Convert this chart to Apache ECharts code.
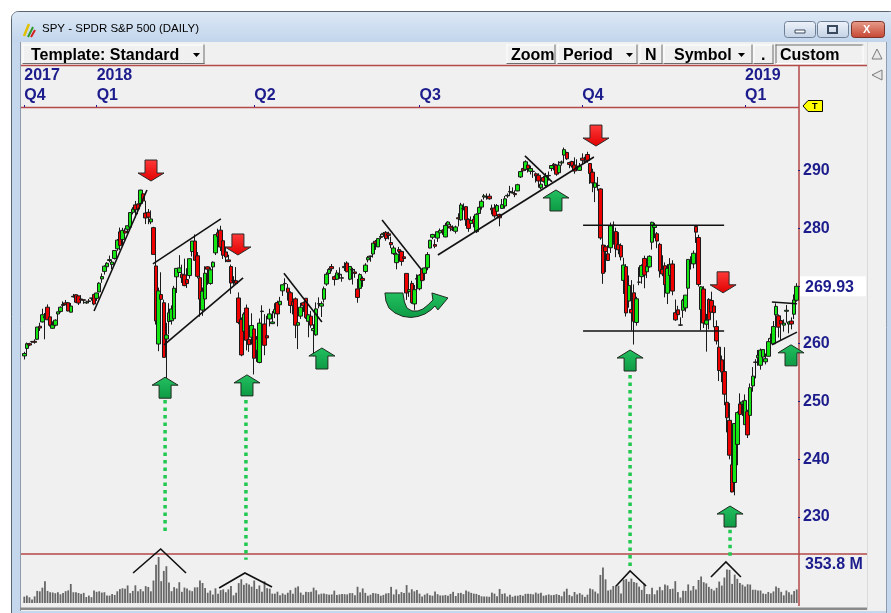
<!DOCTYPE html>
<html>
<head>
<meta charset="utf-8">
<title>SPY - SPDR S&P 500 (DAILY)</title>
<script src="https://cdn.jsdelivr.net/npm/echarts@6/dist/echarts.min.js"></script>
<style>
  html, body { margin: 0; padding: 0; background: #fff; }
  #chart { width: 891px; height: 613px; }
</style>
</head>
<body>
<div id="chart"></div>
<script>
// trading days shown, by month
const tradingDays = {
  '2017-11': [20, 21, 22, 24, 27, 28, 29, 30],
  '2017-12': [1, 4, 5, 6, 7, 8, 11, 12, 13, 14, 15, 18, 19, 20, 21, 22, 26, 27, 28, 29],
  '2018-01': [2, 3, 4, 5, 8, 9, 10, 11, 12, 16, 17, 18, 19, 22, 23, 24, 25, 26, 29, 30, 31],
  '2018-02': [1, 2, 5, 6, 7, 8, 9, 12, 13, 14, 15, 16, 20, 21, 22, 23, 26, 27, 28],
  '2018-03': [1, 2, 5, 6, 7, 8, 9, 12, 13, 14, 15, 16, 19, 20, 21, 22, 23, 26, 27, 28, 29],
  '2018-04': [2, 3, 4, 5, 6, 9, 10, 11, 12, 13, 16, 17, 18, 19, 20, 23, 24, 25, 26, 27, 30],
  '2018-05': [1, 2, 3, 4, 7, 8, 9, 10, 11, 14, 15, 16, 17, 18, 21, 22, 23, 24, 25, 29, 30, 31],
  '2018-06': [1, 4, 5, 6, 7, 8, 11, 12, 13, 14, 15, 18, 19, 20, 21, 22, 25, 26, 27, 28, 29],
  '2018-07': [2, 3, 5, 6, 9, 10, 11, 12, 13, 16, 17, 18, 19, 20, 23, 24, 25, 26, 27, 30, 31],
  '2018-08': [1, 2, 3, 6, 7, 8, 9, 10, 13, 14, 15, 16, 17, 20, 21, 22, 23, 24, 27, 28, 29, 30, 31],
  '2018-09': [4, 5, 6, 7, 10, 11, 12, 13, 14, 17, 18, 19, 20, 21, 24, 25, 26, 27, 28],
  '2018-10': [1, 2, 3, 4, 5, 8, 9, 10, 11, 12, 15, 16, 17, 18, 19, 22, 23, 24, 25, 26, 29, 30, 31],
  '2018-11': [1, 2, 5, 6, 7, 8, 9, 12, 13, 14, 15, 16, 19, 20, 21, 23, 26, 27, 28, 29, 30],
  '2018-12': [3, 4, 6, 7, 10, 11, 12, 13, 14, 17, 18, 19, 20, 21, 24, 26, 27, 28, 31],
  '2019-01': [2, 3, 4, 7, 8, 9, 10, 11, 14, 15, 16, 17, 18, 22, 23, 24, 25, 28, 29, 30, 31]
};

// [open, close, low, high]
const ohlc = [
  // 2017-11
  [257.88, 258.30, 257.27, 258.59], [259.18, 259.99, 258.26, 260.20], [260.00, 259.76, 259.57, 260.15], [260.32, 260.36, 260.16, 260.48],
  [260.41, 260.23, 260.00, 260.75], [260.76, 262.87, 260.66, 262.90], [263.02, 262.71, 262.20, 263.63], [263.76, 265.01, 263.67, 266.05],
  // 2017-12
  [264.76, 264.46, 260.76, 265.31], [266.31, 264.14, 264.08, 266.80], [264.64, 263.19, 262.96, 265.15], [262.66, 263.24, 262.59, 263.86],
  [263.19, 264.07, 263.00, 264.22], [265.14, 265.51, 264.03, 265.52], [265.58, 266.31, 265.37, 266.45], [266.62, 266.78, 266.30, 267.32],
  [267.06, 266.75, 266.65, 267.56], [267.09, 265.66, 265.60, 267.22], [265.45, 266.51, 265.39, 267.04], [268.10, 268.20, 267.98, 268.60],
  [268.48, 267.17, 267.09, 268.53], [268.27, 267.03, 266.69, 268.33], [267.74, 267.58, 267.30, 268.39], [267.60, 267.51, 266.90, 267.64],
  [267.05, 267.19, 266.89, 267.44], [267.38, 267.32, 267.01, 267.73], [267.89, 267.87, 267.45, 267.92], [268.53, 266.86, 266.64, 268.55],
  // 2018-01
  [267.84, 268.77, 267.40, 268.81], [268.96, 270.47, 268.96, 270.64], [271.20, 271.61, 270.54, 272.16], [272.51, 273.42, 271.95, 273.56],
  [273.31, 273.92, 272.98, 274.10], [274.40, 274.54, 274.08, 275.25], [273.68, 274.12, 272.92, 274.42], [274.75, 276.12, 274.56, 276.12],
  [276.42, 277.92, 276.08, 278.11], [279.35, 276.97, 276.18, 280.09], [278.03, 279.61, 276.97, 280.05], [279.48, 279.14, 278.58, 279.96],
  [279.80, 280.41, 279.14, 280.41], [280.17, 282.69, 280.11, 282.69], [282.74, 283.29, 282.37, 283.62], [284.02, 283.18, 281.84, 284.70],
  [284.16, 283.30, 282.41, 284.27], [284.25, 286.58, 283.96, 286.63], [285.93, 284.68, 284.50, 286.43], [282.60, 281.76, 280.70, 284.74],
  [282.73, 281.90, 280.68, 283.30],
  // 2018-02
  [281.07, 281.58, 280.68, 283.06], [280.08, 275.45, 275.41, 280.23], [273.45, 263.93, 263.31, 275.85], [259.94, 269.13, 258.70, 269.70],
  [268.50, 267.67, 267.58, 272.36], [267.08, 257.63, 257.63, 267.62], [260.80, 261.50, 252.92, 263.61], [263.83, 265.34, 261.66, 267.01],
  [263.97, 266.00, 263.31, 266.62], [264.31, 269.59, 264.30, 270.00], [271.57, 273.03, 268.77, 273.04], [272.32, 273.11, 272.27, 275.32],
  [272.03, 271.40, 270.50, 273.67], [271.90, 270.05, 269.94, 274.72], [271.10, 270.40, 269.64, 273.05], [271.79, 274.71, 271.25, 274.71],
  [275.95, 277.76, 275.08, 277.76], [277.76, 274.43, 274.35, 278.91], [275.21, 271.65, 271.31, 275.85],
  // 2018-03
  [271.41, 267.70, 264.67, 273.17], [265.81, 269.08, 264.82, 269.72], [267.73, 272.19, 267.00, 273.39], [273.30, 272.88, 270.19, 273.39],
  [270.42, 272.78, 270.20, 273.18], [273.29, 274.10, 272.40, 274.24], [275.71, 278.87, 275.34, 278.87], [279.20, 278.52, 278.08, 279.91],
  [279.64, 276.72, 276.03, 280.41], [277.81, 275.30, 274.67, 278.02], [275.88, 275.00, 274.10, 276.71], [274.50, 274.20, 274.14, 275.39],
  [273.35, 270.49, 268.62, 273.70], [270.94, 270.95, 270.18, 271.67], [270.90, 270.43, 270.19, 273.26], [267.91, 263.67, 263.36, 268.87],
  [264.17, 258.05, 257.83, 264.54], [262.13, 265.11, 259.41, 265.43], [266.17, 260.60, 258.84, 266.77], [260.75, 259.83, 258.58, 262.64],
  [261.12, 263.15, 259.84, 265.26],
  // 2018-04
  [262.55, 257.47, 254.67, 263.13], [258.87, 260.77, 256.84, 261.31], [256.75, 263.56, 256.60, 264.36], [265.55, 265.64, 263.39, 266.64],
  [263.42, 259.72, 258.00, 265.11], [261.37, 261.00, 259.99, 264.84], [264.27, 265.15, 262.98, 266.04], [263.47, 263.76, 263.39, 265.64],
  [265.29, 265.93, 264.43, 267.00], [267.12, 265.15, 262.99, 267.44], [266.74, 267.33, 265.34, 268.10], [269.14, 270.19, 268.26, 270.25],
  [270.43, 270.39, 269.57, 271.31], [269.61, 268.89, 267.46, 270.33], [268.81, 266.61, 265.28, 269.06], [267.26, 266.57, 265.06, 267.99],
  [267.76, 263.20, 260.96, 268.00], [263.19, 263.64, 259.06, 264.17], [264.77, 266.31, 264.29, 267.07], [267.08, 266.56, 265.50, 267.29],
  [267.86, 264.51, 264.28, 267.86],
  // 2018-05
  [263.87, 264.98, 261.11, 265.10], [264.76, 263.20, 262.76, 265.68], [262.26, 262.62, 257.82, 263.36], [261.52, 266.02, 261.36, 267.15],
  [266.89, 266.92, 266.11, 268.02], [266.50, 266.92, 264.61, 267.32], [267.70, 269.50, 267.13, 269.89], [270.32, 272.02, 270.02, 272.35],
  [272.15, 272.85, 271.67, 273.07], [273.34, 272.98, 272.52, 273.79], [271.59, 271.10, 270.06, 271.81], [271.15, 272.24, 271.04, 272.73],
  [271.92, 272.01, 271.21, 273.21], [271.41, 271.33, 270.72, 271.96], [273.16, 273.37, 272.58, 274.10], [273.96, 272.45, 272.36, 274.25],
  [271.16, 273.36, 270.98, 273.39], [272.85, 272.76, 270.23, 273.13], [272.42, 272.15, 271.40, 272.88], [269.48, 268.00, 267.08, 271.21],
  [269.57, 271.96, 269.46, 272.18], [271.29, 270.94, 269.85, 271.64],
  // 2018-06
  [272.49, 273.60, 272.14, 273.93], [274.51, 274.90, 274.06, 275.18], [275.17, 275.10, 274.18, 275.23], [275.52, 277.40, 274.90, 277.41],
  [277.72, 277.37, 276.23, 277.94], [276.75, 278.19, 276.72, 278.25], [278.40, 278.56, 278.06, 279.00], [278.87, 279.10, 278.48, 279.33],
  [279.27, 278.19, 277.80, 279.48], [279.01, 278.73, 278.04, 279.37], [277.51, 277.13, 276.52, 278.53], [275.58, 276.56, 275.36, 276.97],
  [274.02, 275.50, 272.87, 275.76], [276.29, 275.97, 275.64, 276.75], [275.96, 274.24, 273.49, 276.12], [275.03, 274.74, 274.23, 275.62],
  [272.16, 268.77, 267.58, 272.18], [269.00, 269.35, 268.10, 270.07], [270.43, 267.09, 266.91, 270.88], [266.88, 269.35, 265.86, 270.16],
  [271.16, 271.28, 269.04, 272.00],
  // 2018-07
  [269.51, 271.86, 269.24, 272.04], [272.87, 270.90, 270.42, 272.98], [272.17, 273.11, 270.96, 273.18], [273.14, 275.42, 272.71, 275.84],
  [276.55, 277.90, 276.50, 277.96], [278.41, 278.90, 278.08, 279.01], [277.15, 276.86, 276.52, 278.04], [278.28, 279.37, 277.60, 279.43],
  [279.17, 279.59, 278.66, 279.93], [279.64, 279.34, 278.84, 279.80], [278.47, 280.47, 278.41, 280.91], [280.56, 281.06, 280.06, 281.18],
  [280.31, 280.00, 279.46, 280.74], [279.77, 279.68, 279.50, 280.48], [279.45, 280.20, 279.06, 280.43], [281.79, 281.61, 280.30, 282.56],
  [281.43, 284.01, 281.28, 284.37], [283.37, 283.34, 283.07, 284.27], [283.71, 281.42, 280.38, 283.82], [281.51, 279.95, 279.36, 281.69],
  [280.81, 281.33, 280.38, 282.02],
  // 2018-08
  [281.56, 280.86, 280.13, 282.13], [279.39, 282.39, 279.16, 282.58], [282.53, 283.60, 282.33, 283.66], [283.64, 284.64, 283.20, 284.99],
  [285.39, 285.58, 284.94, 285.91], [285.39, 285.46, 284.92, 285.99], [285.53, 285.07, 284.92, 285.97], [283.45, 283.16, 282.36, 284.06],
  [283.47, 282.10, 281.77, 284.16], [282.92, 283.90, 282.48, 284.17], [282.38, 281.78, 280.32, 282.49], [283.40, 284.06, 283.36, 285.04],
  [283.83, 285.06, 283.37, 285.56], [285.57, 285.67, 285.24, 286.01], [286.25, 286.34, 285.62, 287.31], [286.08, 286.17, 285.98, 287.05],
  [285.97, 285.79, 285.36, 286.52], [286.44, 287.51, 286.38, 287.67], [288.86, 289.78, 288.68, 289.90], [290.30, 289.92, 289.40, 290.42],
  [290.16, 291.48, 289.89, 291.74], [290.91, 290.30, 289.63, 291.26], [289.84, 290.31, 289.29, 290.81],
  // 2018-09
  [289.84, 289.81, 288.70, 290.21], [289.41, 289.03, 287.89, 289.64], [289.15, 288.16, 287.00, 289.49], [286.98, 287.60, 286.71, 288.70],
  [288.74, 288.10, 287.88, 289.04], [287.37, 289.05, 286.98, 289.55], [289.06, 289.12, 288.23, 289.80], [290.32, 290.83, 289.86, 290.85],
  [291.06, 290.88, 290.00, 291.27], [290.87, 289.34, 289.06, 291.03], [289.58, 290.91, 289.54, 291.58], [291.27, 291.44, 290.83, 291.69],
  [292.64, 293.58, 291.24, 293.94], [293.09, 291.99, 291.81, 293.22], [291.34, 291.02, 290.37, 291.50], [291.53, 290.75, 290.48, 291.65],
  [290.91, 289.88, 289.41, 292.24], [290.41, 290.69, 290.10, 291.91], [289.99, 290.72, 289.95, 291.28],
  // 2018-10
  [292.11, 291.73, 290.98, 292.93], [291.56, 291.56, 291.14, 292.36], [292.74, 291.72, 291.32, 293.21], [291.18, 289.44, 287.66, 291.24],
  [289.69, 287.82, 286.22, 290.27], [287.05, 287.82, 284.50, 288.28], [287.38, 287.40, 286.48, 288.86], [286.78, 278.30, 277.99, 286.90],
  [277.08, 272.17, 270.36, 278.90], [276.77, 275.95, 272.36, 277.09], [275.55, 274.40, 274.30, 277.04], [276.60, 280.40, 275.70, 280.96],
  [280.51, 280.45, 277.14, 281.15], [279.40, 276.40, 274.97, 280.07], [277.13, 276.25, 275.47, 279.30], [277.00, 275.01, 274.41, 277.36],
  [270.95, 273.61, 268.61, 274.87], [273.33, 265.32, 264.70, 273.76], [267.38, 270.08, 266.23, 271.81], [265.92, 265.33, 262.29, 271.00],
  [268.80, 263.86, 259.85, 270.25], [263.67, 267.77, 263.12, 268.12], [270.65, 270.63, 270.12, 273.23],
  // 2018-11
  [271.60, 273.51, 270.38, 273.73], [274.75, 271.89, 269.59, 275.23], [272.44, 273.39, 271.35, 274.01], [273.30, 275.12, 273.15, 275.30],
  [277.56, 281.01, 276.28, 281.10], [280.11, 280.50, 278.25, 280.91], [279.03, 277.76, 276.53, 279.32], [277.19, 272.57, 271.44, 277.46],
  [272.88, 272.06, 271.68, 275.30], [273.49, 270.20, 268.02, 274.06], [268.74, 273.02, 266.86, 273.77], [271.80, 273.73, 271.28, 274.81],
  [273.79, 269.10, 268.38, 274.44], [265.36, 264.12, 263.94, 267.64], [265.86, 265.02, 264.97, 266.55], [263.20, 263.25, 263.07, 264.56],
  [265.78, 267.50, 264.48, 267.76], [266.19, 268.40, 265.53, 268.40], [269.60, 274.58, 268.23, 274.59], [274.14, 273.98, 272.83, 275.11],
  [273.81, 275.65, 273.04, 276.12],
  // 2018-12
  [280.28, 279.30, 277.44, 280.40], [278.37, 270.25, 269.90, 278.85], [265.92, 269.84, 262.29, 269.97], [269.46, 263.57, 262.71, 269.94],
  [263.37, 264.07, 258.62, 265.16], [267.66, 264.13, 262.48, 267.87], [267.47, 265.46, 265.37, 269.00], [266.52, 265.37, 262.84, 267.01],
  [262.96, 260.47, 259.85, 264.03], [259.40, 255.36, 253.53, 260.65], [257.20, 255.08, 253.34, 257.95], [255.17, 251.26, 249.35, 259.40],
  [249.86, 247.17, 244.65, 251.62], [246.74, 240.70, 239.98, 249.71], [239.04, 234.34, 234.27, 240.84], [235.97, 246.18, 233.76, 246.18],
  [242.57, 248.07, 238.96, 248.29], [249.58, 247.75, 246.45, 251.40], [249.56, 249.92, 247.47, 250.19],
  // 2019-01
  [245.98, 250.18, 245.95, 251.21], [248.23, 244.21, 243.67, 248.57], [247.59, 252.39, 247.17, 253.11], [252.69, 254.38, 251.69, 255.95],
  [256.82, 256.77, 254.00, 257.31], [257.56, 257.97, 256.19, 258.91], [256.26, 258.88, 255.50, 259.16], [257.68, 258.98, 257.03, 259.01],
  [256.86, 257.40, 256.41, 258.30], [257.82, 260.35, 257.82, 260.94], [260.83, 260.98, 260.23, 261.74], [259.98, 262.96, 259.96, 263.92],
  [264.98, 266.46, 263.00, 266.98], [264.82, 262.86, 261.06, 265.06], [264.01, 263.41, 260.66, 264.79], [263.21, 263.55, 262.08, 264.20],
  [265.61, 265.78, 263.66, 266.70], [263.39, 263.76, 261.79, 263.83], [263.92, 263.41, 262.48, 264.55], [265.10, 267.58, 264.25, 268.52],
  [267.51, 269.93, 267.27, 270.47]
];

// daily volume, millions of shares
const volume = [
  49, 57, 44, 27, 51, 93, 90, 118,
  168, 93, 83, 81, 75, 83, 67, 77, 91, 97, 146, 83, 82, 77, 70, 78, 46, 57, 45, 96,
  86, 90, 80, 83, 57, 57, 69, 62, 90, 107, 113, 110, 135, 76, 93, 136, 90, 107, 90, 130, 123,
  90, 173, 294, 353.8, 168, 247, 283, 158, 91, 122, 112, 160, 86, 119, 112, 97, 91, 120, 121,
  173, 154, 115, 79, 96, 65, 113, 71, 99, 105, 83, 105, 131, 59, 79, 153, 183, 140, 152, 142, 126,
  173, 108, 135, 86, 166, 114, 110, 72, 72, 87, 60, 74, 64, 79, 99, 71, 118, 128, 80, 63, 86,
  84, 86, 118, 98, 66, 72, 74, 68, 64, 66, 95, 62, 66, 70, 68, 66, 76, 76, 60, 125, 82, 112,
  78, 56, 64, 76, 74, 70, 56, 62, 74, 76, 124, 66, 104, 68, 84, 76, 138, 80, 106, 90, 100,
  72, 50, 64, 74, 60, 56, 88, 68, 58, 58, 62, 56, 70, 86, 54, 76, 78, 68, 96, 88, 78,
  72, 70, 62, 52, 50, 50, 48, 80, 72, 52, 108, 70, 74, 50, 64, 48, 56, 56, 62, 56, 70, 72, 70,
  66, 80, 72, 78, 56, 60, 66, 60, 62, 68, 62, 52, 88, 110, 62, 52, 85, 66, 76,
  64, 47, 64, 111, 105, 88, 73, 216, 274, 182, 96, 103, 131, 135, 133, 74, 180, 184, 164, 188, 162, 155, 126,
  101, 149, 69, 68, 117, 67, 98, 124, 98, 143, 135, 107, 110, 168, 84, 42, 94, 93, 143, 96, 131,
  104, 177, 204, 160, 151, 124, 109, 96, 117, 165, 134, 196, 257, 255, 147, 218, 186, 154, 141,
  126, 144, 142, 102, 102, 96, 96, 73, 70, 85, 75, 89, 127, 116, 86, 59, 96, 82, 65, 92, 104
];

const priceTicks = [230, 240, 250, 260, 270, 280, 290];
const volumeLabel = 353.8;

// drawn annotations, as [bar index, price]
const trendLines = [
  [[27.0, 265.65], [47.5, 286.6]],
  [[49.8, 273.8], [76.1, 281.6]],
  [[54.1, 259.8], [84.7, 271.4]],
  [[100.5, 272.2], [115.2, 263.75]],
  [[138.5, 281.4], [153.6, 272.9]],
  [[160.1, 275.35], [220.5, 292.3]],
  [[193.8, 292.5], [204.3, 288.0]],
  [[216.3, 280.5], [270.9, 280.5]],
  [[216.3, 262.2], [270.9, 262.2]],
  [[289.4, 267.2], [299.1, 266.9]],
  [[289.4, 259.8], [299.1, 262.0]]
];
const sellArrows = [[49.05, 288.15], [82.7, 275.35], [221.3, 294.2], [270.5, 268.8]];
const buyArrows = [[54.5, 254.2], [86.2, 254.6], [115.2, 259.25], [205.8, 286.6], [234.5, 258.9], [273.2, 231.9], [296.8, 259.8]];
const uTurn = [151.6, 266.7];
// [bar index, from price, to price]
const dropLines = [[54.5, 250.25, 226.9], [85.8, 250.25, 222.6], [234.5, 254.6, 221.5], [273.2, 227.8, 223.3]];
// volume peaks, as [bar index, volume]
const volumePeaks = [
  [[42.1, 230.8], [52.8, 415.5], [62.6, 230.8]],
  [[75.4, 115.4], [85.4, 230.8], [95.9, 123.1]],
  [[229.1, 130.8], [234.5, 246.2], [240.7, 130.8]],
  [[265.8, 200], [271.6, 315.4], [277.4, 200]]
];

const dates = [];
Object.keys(tradingDays).forEach(m => {
  tradingDays[m].forEach(d => dates.push(m + '-' + String(d).padStart(2, '0')));
});
const quarterIdx = new Set();
const yearIdx = new Set();
dates.forEach((d, i) => {
  const prev = dates[i - 1];
  const mo = +d.slice(5, 7);
  if (i === 0 || (prev.slice(5, 7) !== d.slice(5, 7) && (mo - 1) % 3 === 0)) quarterIdx.add(i);
  if (i === 0 || prev.slice(0, 4) !== d.slice(0, 4)) yearIdx.add(i);
});

const NAVY = '#1c1c8c';
const RED = '#b54848';
const FONT = "'Liberation Sans', Arial, sans-serif";
const labelFont = { color: NAVY, fontWeight: 'bold', fontSize: 16, fontFamily: FONT };

const chart = echarts.init(document.getElementById('chart'));
chart.setOption({
  animation: false,
  backgroundColor: '#ffffff',
  grid: [
    { left: 23, top: 107, width: 775, height: 447 },
    { left: 23, top: 554, width: 775, height: 49 }
  ],
  xAxis: [
    {
      type: 'category', gridIndex: 0, data: dates, position: 'top',
      axisLine: { show: false },
      axisTick: { show: true, alignWithLabel: true, interval: i => quarterIdx.has(i), length: 2, lineStyle: { color: NAVY } },
      splitLine: { show: false },
      axisLabel: Object.assign({
        interval: i => quarterIdx.has(i),
        formatter: v => 'Q' + (Math.floor((+v.slice(5, 7) - 1) / 3) + 1),
        align: 'left', margin: 3
      }, labelFont)
    },
    {
      type: 'category', gridIndex: 0, data: dates, position: 'top', offset: 20,
      axisLine: { show: false }, axisTick: { show: false }, splitLine: { show: false },
      axisLabel: Object.assign({
        interval: i => yearIdx.has(i),
        formatter: v => v.slice(0, 4),
        align: 'left', margin: 3
      }, labelFont)
    },
    { type: 'category', gridIndex: 1, data: dates, show: false }
  ],
  yAxis: [
    {
      type: 'value', gridIndex: 0, position: 'right', min: 223.6, max: 300.96, scale: true,
      splitLine: { show: false }, axisLine: { show: false },
      axisTick: { show: true, customValues: priceTicks, length: 2, lineStyle: { color: NAVY } },
      axisLabel: Object.assign({ customValues: priceTicks, margin: 5 }, labelFont)
    },
    { type: 'value', gridIndex: 1, min: 0, max: 377, show: false }
  ],
  series: [
    {
      type: 'candlestick', xAxisIndex: 0, yAxisIndex: 0, data: ohlc, barWidth: 4,
      itemStyle: { color: '#14e614', color0: '#ee0000', borderColor: '#1a1a1a', borderColor0: '#1a1a1a', borderWidth: 1 }
    },
    {
      type: 'bar', xAxisIndex: 2, yAxisIndex: 1, data: volume, barWidth: 1.8,
      itemStyle: { color: '#666666' }
    }
  ]
});

// pixel position of [bar index, value] through the series' own axes
function at(seriesIndex, i, v) {
  const a = chart.convertToPixel({ seriesIndex }, [0, v]);
  const b = chart.convertToPixel({ seriesIndex }, [dates.length - 1, v]);
  return [a[0] + (b[0] - a[0]) * i / (dates.length - 1), a[1]];
}

const grad = (c1, c2) => ({ type: 'linear', x: 0, y: 0, x2: 0, y2: 1, colorStops: [{ offset: 0, color: c1 }, { offset: 1, color: c2 }] });
const text = (x, y, t, font, fill, z) => ({ type: 'text', x, y, z: z || -1, style: { text: t, font, fill: fill || '#000', align: 'left', verticalAlign: 'middle' } });
const line = (x1, y1, x2, y2, stroke, w, z) => ({ type: 'line', z: z || -1, shape: { x1, y1, x2, y2 }, style: { stroke, lineWidth: w || 1 } });
const rect = (x, y, width, height, fill, z, extra) => Object.assign({ type: 'rect', z: z || -1, shape: { x, y, width, height }, style: { fill } }, extra || {});
const caret = (x, y) => ({ type: 'polygon', z: -1, shape: { points: [[x, y], [x + 7, y], [x + 3.5, y + 4]] }, style: { fill: '#000' } });
const winButton = (x, w, c1, c2, stroke) => ({ type: 'rect', z: -1, shape: { x, y: 21.5, width: w, height: 16, r: 3 }, style: { fill: grad(c1, c2), stroke } });

function button(x, y, w, h, label, tx, sunken) {
  const hi = sunken ? '#6d6d6d' : '#ffffff';
  const lo = sunken ? '#ffffff' : '#6d6d6d';
  return [
    rect(x, y, w, h, '#f0f0f0'),
    line(x, y + 0.5, x + w, y + 0.5, hi), line(x + 0.5, y, x + 0.5, y + h, hi),
    line(x, y + h - 0.5, x + w, y + h - 0.5, lo), line(x + w - 0.5, y, x + w - 0.5, y + h, lo),
    text(tx, y + h / 2 + 1, label, 'bold 16px ' + FONT, '#000')
  ];
}

const chrome = [
  { type: 'rect', z: -1, shape: { x: 11.5, y: 11.5, width: 885, height: 610, r: [7, 7, 0, 0] }, style: { fill: '#c4d7ed', stroke: '#5a6574' } },
  { type: 'rect', z: -1, shape: { x: 12, y: 12, width: 884, height: 30, r: [6, 6, 0, 0] }, style: { fill: grad('#dce8f5', '#c2d5ec') } },
  line(24, 36, 29, 24, '#e0c000', 2.5), line(28, 37, 33, 27, '#2a9a2a', 2), line(31, 37, 35, 30, '#d02020', 2),
  text(42, 29, 'SPY - SPDR S&P 500 (DAILY)', '11.5px ' + FONT, '#000'),
  winButton(784.5, 31, '#eef3fa', '#c3d2e5', '#6f8096'),
  { type: 'rect', z: -1, shape: { x: 795, y: 30, width: 10, height: 3 }, style: { fill: '#fff', stroke: '#3a4a5e' } },
  winButton(817.5, 31, '#eef3fa', '#c3d2e5', '#6f8096'),
  { type: 'rect', z: -1, shape: { x: 828, y: 26, width: 9, height: 7 }, style: { fill: 'none', stroke: '#3a4a5e', lineWidth: 2 } },
  winButton(851.5, 33, '#e9a08e', '#c4432f', '#7d3428'),
  text(863, 30, 'X', 'bold 11px ' + FONT, '#ffffff'),
  rect(20, 42, 867, 569, '#f0f0f0'),
  line(20.5, 42, 20.5, 611, '#8d9cae'),
  line(867.5, 42, 867.5, 610, '#dadada'),
  line(886.5, 42, 886.5, 613, '#8d9cae'),
  rect(20, 607.5, 847, 2.5, '#8a8a8a'),
  // toolbar
  ...button(22.5, 44.5, 182, 19.5, 'Template: Standard', 31),
  caret(193, 53),
  ...button(506.5, 44.5, 49, 19.5, 'Zoom', 511),
  ...button(557.5, 44.5, 80, 19.5, 'Period', 563),
  caret(626, 53),
  ...button(639.5, 44.5, 23, 19.5, 'N', 645),
  ...button(663.5, 44.5, 89, 19.5, 'Symbol', 674),
  caret(738, 53),
  ...button(753.5, 44.5, 20, 19.5, '.', 761),
  ...button(775.5, 44.5, 88, 19.5, 'Custom', 780, true),
  { type: 'polygon', z: -1, shape: { points: [[877, 49], [882, 59], [872, 59]] }, style: { fill: '#e8e8e8', stroke: '#7a7a7a' } },
  { type: 'polygon', z: -1, shape: { points: [[872, 75], [882, 70], [882, 80]] }, style: { fill: '#e8e8e8', stroke: '#7a7a7a' } },
  // pane borders
  line(21, 65.5, 867, 65.5, RED, 1.5),
  line(21, 107.5, 799, 107.5, RED, 1.5),
  line(21, 554, 867, 554, RED, 1.5),
  line(799, 65, 799, 606, RED, 1.5),
  { type: 'polygon', z: 60, shape: { points: [[803, 106], [808, 100.5], [822.5, 100.5], [822.5, 111.5], [808, 111.5]] }, style: { fill: '#ffff00', stroke: '#000' } },
  text(812, 106.5, 'T', 'bold 9px ' + FONT, '#000', 61)
];

const anno = [];
trendLines.forEach(([a, b]) => {
  const p = at(0, a[0], a[1]), q = at(0, b[0], b[1]);
  anno.push(line(p[0], p[1], q[0], q[1], '#111111', 1.6, 40));
});
volumePeaks.forEach(pts => {
  anno.push({ type: 'polyline', z: 40, shape: { points: pts.map(p => at(1, p[0], p[1])) }, style: { stroke: '#111111', lineWidth: 1.6, fill: null } });
});
dropLines.forEach(([i, p1, p2]) => {
  const a = at(0, i, p1), b = at(0, i, p2);
  anno.push({ type: 'line', z: 39, shape: { x1: a[0], y1: a[1], x2: b[0], y2: b[1] }, style: { stroke: '#20c850', lineWidth: 3.5, lineDash: [3.5, 4] } });
});
sellArrows.forEach(([i, p]) => {
  const [x, y] = at(0, i, p);
  anno.push({ type: 'polygon', z: 45, x, y, shape: { points: [[0, 0], [-13, -8], [-6, -8], [-6, -21], [6, -21], [6, -8], [13, -8]] }, style: { fill: grad('#ff3a3a', '#e00000'), stroke: '#2a2a2a', lineWidth: 1 } });
});
buyArrows.forEach(([i, p]) => {
  const [x, y] = at(0, i, p);
  anno.push({ type: 'polygon', z: 45, x, y, shape: { points: [[0, 0], [13, 8], [6, 8], [6, 21], [-6, 21], [-6, 8], [-13, 8]] }, style: { fill: grad('#22c060', '#0e9a44'), stroke: '#1e2a1e', lineWidth: 1 } });
});
{
  // curved "turn up" arrow
  const [x, y] = at(0, uTurn[0], uTurn[1]);
  anno.push({
    type: 'polygon', z: 45, x, y,
    shape: { points: [[-31, -12], [-30, -4], [-27, 3], [-21, 8], [-13, 11.5], [-5, 12.5], [2, 11.5], [9, 9], [15, 5], [19, 1], [22, 5], [32, -7],
      [16, -12], [17, -5], [12, 0], [7, 4], [2, 6], [-4, 6], [-9, 3], [-11.5, -3], [-13, -12]] },
    style: { fill: grad('#22c060', '#0e9a44'), stroke: '#1e2a1e', lineWidth: 1 }
  });
}
{
  const last = ohlc[ohlc.length - 1][1];
  const [, y] = at(0, dates.length - 1, last);
  anno.push(rect(800, y - 10, 66, 20, '#ffffff', 50));
  anno.push(text(805, y + 1, last.toFixed(2), 'bold 16px ' + FONT, NAVY, 51));
  const [, vy] = at(1, 0, volumeLabel);
  anno.push(text(805, vy + 8, volumeLabel.toFixed(1) + ' M', 'bold 16px ' + FONT, NAVY, 51));
}

chart.setOption({ graphic: { elements: chrome.concat(anno) } });
</script>
</body>
</html>
